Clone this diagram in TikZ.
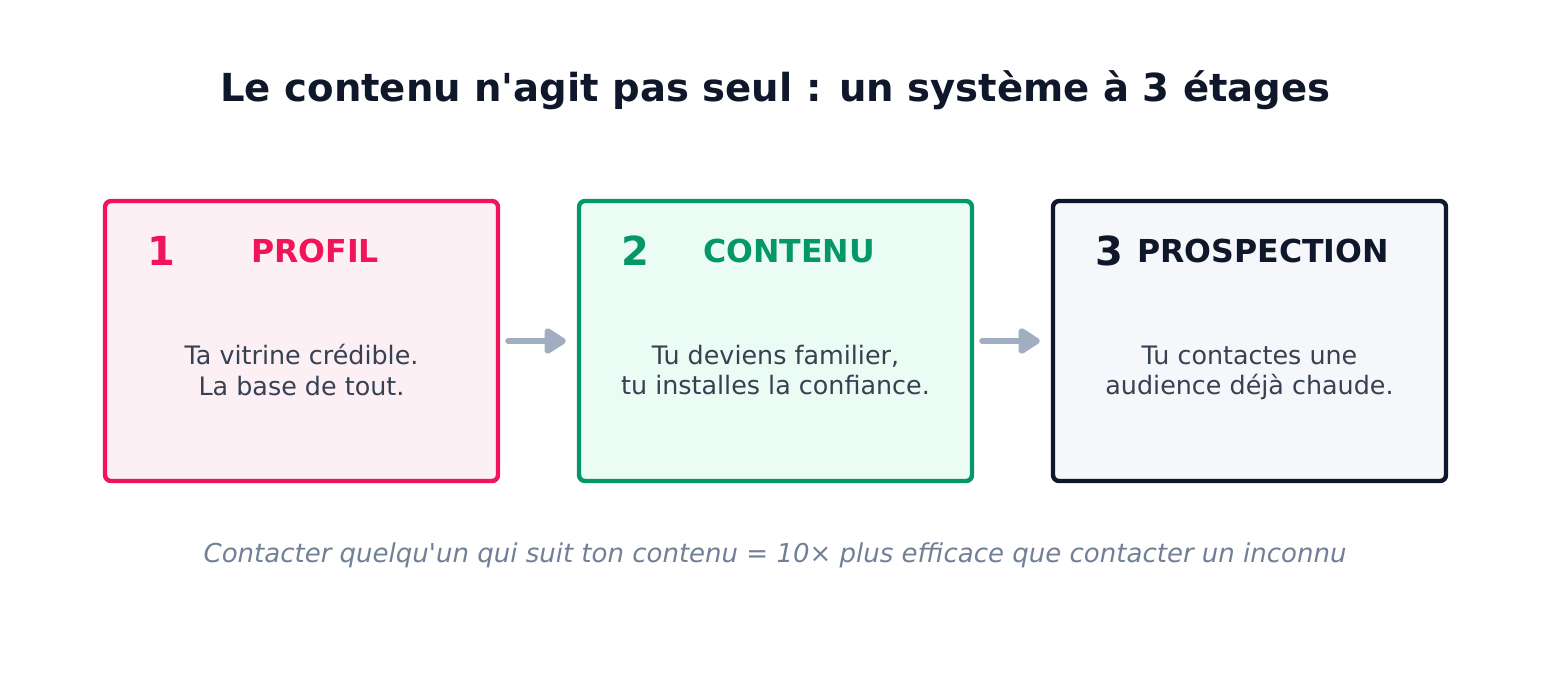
\documentclass[tikz,border=0pt]{standalone}
\usepackage{fontspec}
\setmainfont{DejaVu Sans}[Ligatures=TeXOff]
\usetikzlibrary{arrows.meta}

\definecolor{profilc}{HTML}{F0145A}
\definecolor{profilbg}{HTML}{FDF0F5}
\definecolor{contenuc}{HTML}{05976A}
\definecolor{contenubg}{HTML}{EBFCF4}
\definecolor{prospc}{HTML}{0F172A}
\definecolor{prospbg}{HTML}{F5F7FA}
\definecolor{bodytxt}{HTML}{374151}
\definecolor{notetxt}{HTML}{718096}
\definecolor{arrgray}{HTML}{A0AEC0}

\begin{document}
\begin{tikzpicture}[x=0.5pt,y=-0.5pt,
		box/.style={draw,rounded corners=3pt,line width=2.2pt,inner sep=0pt,
			minimum width=196.5pt,minimum height=140pt},
		num/.style={font=\fontsize{20}{22}\selectfont\bfseries,inner sep=0pt,anchor=base west},
		head/.style={font=\fontsize{15.8}{18}\selectfont\bfseries,inner sep=0pt,anchor=base},
		body/.style={font=\fontsize{12.7}{15.2}\selectfont,text=bodytxt,align=center,inner sep=0pt},
		arr/.style={draw=arrgray,line width=3pt,line cap=round,
			-{Triangle[length=12pt,width=14.5pt,round]},shorten <=4pt,shorten >=5.5pt}]
		\useasboundingbox (0,0) rectangle (1551,677);

		% title
		\node[font=\fontsize{19.3}{22}\selectfont\bfseries,text=prospc,anchor=base] (title) at (775.5,101)
			{Le contenu n'agit pas seul : un système à 3 étages};

		% the three boxes
		\path (301.5,341) node[box,draw=profilc,fill=profilbg] (b1) {}
		(775.5,341) node[box,draw=contenuc,fill=contenubg] (b2) {}
		(1249.5,341) node[box,draw=prospc,fill=prospbg] (b3) {};

		\path (147,265) node[num,text=profilc] (n1) {1}
		(621,265) node[num,text=contenuc] (n2) {2}
		(1095,265) node[num,text=prospc] (n3) {3};

		\path (315,262) node[head,text=profilc] (h1) {PROFIL}
		(789,262) node[head,text=contenuc] (h2) {CONTENU}
		(1263,262) node[head,text=prospc] (h3) {PROSPECTION};

		\path (301.5,370) node[body] (t1) {Ta vitrine crédible.\\La base de tout.}
		(775.5,370) node[body] (t2) {Tu deviens familier,\\tu installes la confiance.}
		(1249.5,373) node[body] (t3) {Tu contactes une\\audience déjà chaude.};

		\draw[arr] (b1) -- (b2);
		\draw[arr] (b2) -- (b3);

		% note below
		\node[font=\fontsize{13}{15}\selectfont\itshape,text=notetxt,anchor=base] (note) at (775,562)
			{Contacter quelqu'un qui suit ton contenu = 10× plus efficace que contacter un inconnu};
	\end{tikzpicture}
\end{document}
